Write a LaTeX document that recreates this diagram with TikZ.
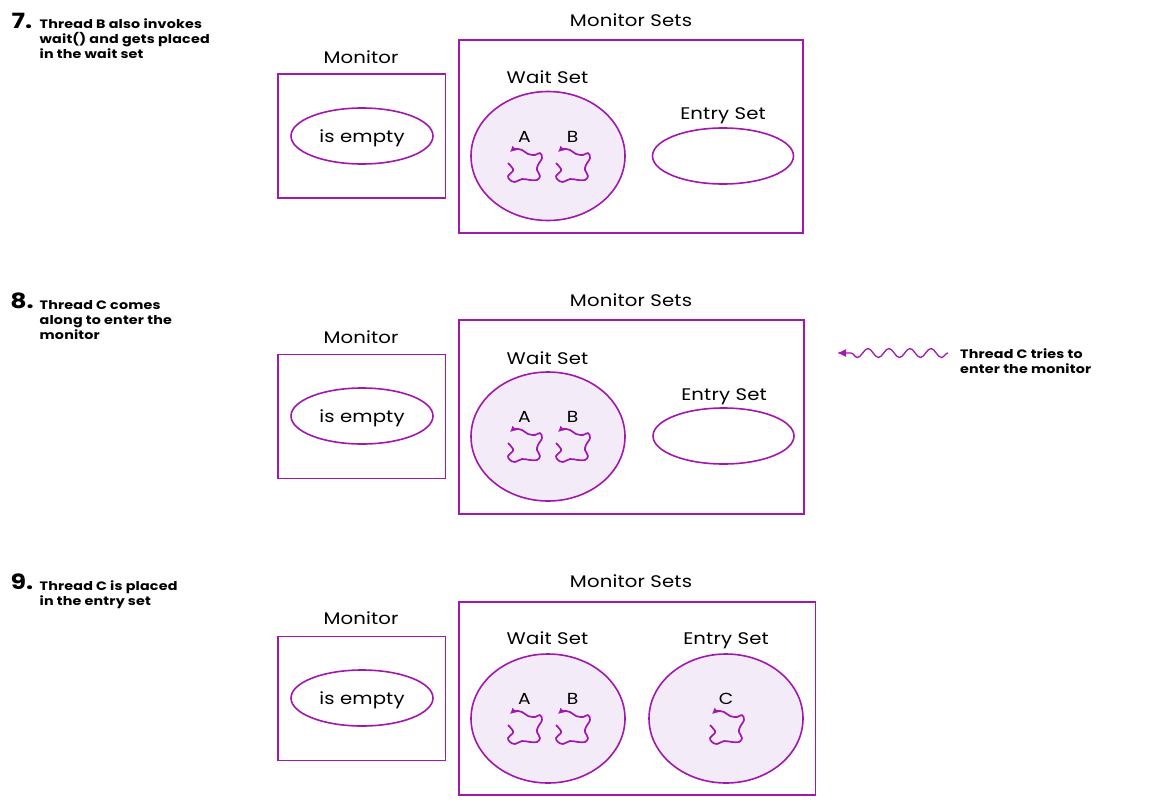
\documentclass[tikz,border=0pt]{standalone}
\usepackage{fontspec}
\setmainfont{Poppins}[FakeStretch=1.17]
\newfontfamily\numfont{Poppins}[FakeStretch=1.2]
\usetikzlibrary{arrows.meta,decorations.pathmorphing}
\definecolor{pur}{HTML}{A018AC}
\definecolor{lil}{HTML}{F3ECF8}
\definecolor{ink}{HTML}{000000}
\tikzset{
 x=1pt,y=-1pt,
 box/.style={draw=pur,line width=1.6pt,fill=white,inner sep=0},
 ell/.style={draw=pur,line width=1.6pt,fill=white},
 full/.style={draw=pur,line width=1.6pt,fill=lil},
 lab/.style={font=\fontsize{16.8}{18}\selectfont\addfontfeature{LetterSpace=1},text=ink,inner sep=0,anchor=center,text height=.72em,text depth=.2em,yshift=-4pt},
 note/.style={font=\fontsize{12.2}{15}\selectfont\bfseries\addfontfeature{LetterSpace=1.5},text=ink,inner sep=0,align=left,anchor=north west},
 num/.style={font=\numfont\fontsize{21}{24}\selectfont\bfseries,text=ink,inner sep=0,anchor=center},
 thr/.style={font=\fontsize{16}{16}\selectfont,text=ink,inner sep=0,anchor=center},
 squig/.pic={\draw[pur,line width=1.7pt,line join=round,{Latex[length=6pt,width=6.5pt]}-]
   plot[smooth,tension=.6] coordinates {(0,0) (5,-3) (12,-2) (18,2) (25,3) (30,1) (32,6) (28,13) (27,18) (30,24) (27,28) (20,28) (12,27) (5,30) (0,28) (-2,24) (2,20) (3,17) (-2,11)};}
}
\begin{document}
\begin{tikzpicture}
\useasboundingbox (0,0) rectangle (1150,811);
\fill[white] (0,0) rectangle (1150,811);
% --- panel 7
\node[num] (n7) at (22,21) {7.};
\node[note] (t7) at (39.5,18.7) {Thread B also invokes\\wait() and gets placed\\in the wait set};
\node[lab] (m7) at (361,57) {Monitor};
\draw[box] (278,74) rectangle (445.5,198);
\draw[ell] (362,136) ellipse [x radius=71,y radius=28];
\node[lab] (e7) at (362,136) {is empty};
\node[lab] (s7) at (631,20) {Monitor Sets};
\draw[box] (459,40) rectangle (803,233);
\node[lab] (w7) at (547.5,77) {Wait Set};
\draw[full] (548,156) ellipse [x radius=77,y radius=64.5];
\node[thr] (a7) at (524.5,137) {A};
\node[thr] (b7) at (572.5,137) {B};
\pic at (510,152) {squig};
\pic at (558,152) {squig};
\node[lab] (en7) at (723,113) {Entry Set};
\draw[ell] (723,156) ellipse [x radius=70.5,y radius=28];
% --- panel 8
\node[num] (n8) at (22,301) {8.};
\node[note] (t8) at (39.5,300.3) {Thread C comes\\along to enter the\\monitor};
\node[lab] (m8) at (361,337) {Monitor};
\draw[box] (278,354.5) rectangle (445.5,478.5);
\draw[ell] (362,416) ellipse [x radius=71,y radius=28];
\node[lab] (e8) at (362,416) {is empty};
\node[lab] (s8) at (631,300) {Monitor Sets};
\draw[box] (459,320) rectangle (804,514);
\node[lab] (w8) at (547.5,358) {Wait Set};
\draw[full] (548,436.5) ellipse [x radius=77,y radius=64.5];
\node[thr] (a8) at (524.5,417) {A};
\node[thr] (b8) at (572.5,417) {B};
\pic at (510,432) {squig};
\pic at (558,432) {squig};
\node[lab] (en8) at (724,394) {Entry Set};
\draw[ell] (723.5,436) ellipse [x radius=70.5,y radius=28];
\coordinate (wa) at (948,353);
\coordinate (wb) at (837,353);
\draw[pur,line width=1.3pt,-{Latex[length=9pt,width=8pt]},decorate,decoration={snake,amplitude=4.5pt,segment length=21pt,post length=9pt}] (wa) -- (wb);
\node[note] (t8b) at (960,349) {Thread C tries to\\enter the monitor};
% --- panel 9
\node[num] (n9) at (22,582) {9.};
\node[note] (t9) at (39.5,580.5) {Thread C is placed\\in the entry set};
\node[lab] (m9) at (361,618) {Monitor};
\draw[box] (278,636.5) rectangle (445.5,760.5);
\draw[ell] (362,698) ellipse [x radius=71,y radius=28];
\node[lab] (e9) at (362,698) {is empty};
\node[lab] (s9) at (631,581) {Monitor Sets};
\draw[box] (459,602) rectangle (815.5,795);
\node[lab] (w9) at (547.5,637.5) {Wait Set};
\draw[full] (548,718.5) ellipse [x radius=77,y radius=64.5];
\node[thr] (a9) at (524.5,699) {A};
\node[thr] (b9) at (572.5,699) {B};
\pic at (510,714) {squig};
\pic at (558,714) {squig};
\node[lab] (en9) at (726,637.5) {Entry Set};
\draw[full] (726,718.5) ellipse [x radius=77,y radius=64.5];
\node[thr] (c9) at (726,699) {C};
\pic at (712,714) {squig};
\end{tikzpicture}
\end{document}
